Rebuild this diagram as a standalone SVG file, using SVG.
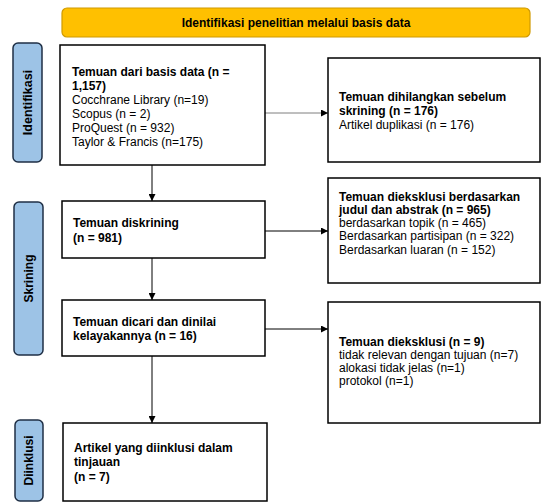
<svg xmlns="http://www.w3.org/2000/svg" width="542" height="503" viewBox="0 0 542 503">
<defs>
<marker id="ah" viewBox="0 0 10 10" refX="10" refY="5" markerWidth="7" markerHeight="7" markerUnits="userSpaceOnUse" orient="auto">
<path d="M0,0 L10,5 L0,10 z" fill="#000"/>
</marker>
<style>
.box{fill:#fff;stroke:#000;stroke-width:1.5}
.side{fill:#9DC3E6;stroke:#1F2F45;stroke-width:1.5}
.hdr{fill:#FFC000;stroke:#D09A00;stroke-width:1.2}
text{font-family:"Liberation Sans",Arial,sans-serif;font-size:12px;fill:#000}
.b{font-weight:bold}
.lab{font-weight:bold;text-anchor:middle}
.con{stroke:#000;stroke-width:1;fill:none;marker-end:url(#ah)}
</style>
</defs>
<rect width="542" height="503" fill="#fff"/>
<g id="header">
<rect class="hdr" x="62" y="8" width="468" height="29" rx="5"/>
<text class="lab" x="296" y="27">Identifikasi penelitian melalui basis data</text>
</g>
<g id="side-identifikasi">
<rect class="side" x="13" y="43" width="29" height="119" rx="5"/>
<text class="lab" style="font-size:12.5px" transform="translate(32,102.5) rotate(-90)">Identifikasi</text>
</g>
<g id="side-skrining">
<rect class="side" x="14" y="202" width="29" height="153" rx="5"/>
<text class="lab" transform="translate(32.5,278.5) rotate(-90)">Skrining</text>
</g>
<g id="side-diinklusi">
<rect class="side" x="15" y="420" width="28" height="81" rx="5"/>
<text class="lab" transform="translate(33,460.5) rotate(-90)">Diinklusi</text>
</g>
<g id="connectors">
<line class="con" x1="152" y1="165" x2="152" y2="201"/>
<line class="con" x1="152" y1="258" x2="152" y2="300"/>
<line class="con" x1="152" y1="356" x2="152" y2="423"/>
<line class="con" x1="265" y1="113" x2="328" y2="113" style="stroke:#7F7F7F"/>
<line class="con" x1="265" y1="231" x2="328" y2="231"/>
<line class="con" x1="265" y1="329" x2="328" y2="329"/>
</g>
<g id="n-database">
<rect class="box" x="60" y="45" width="205" height="120"/>
<text class="b" x="72" y="76">Temuan dari basis data (n =</text>
<text class="b" x="72" y="89.5">1,157)</text>
<text x="72" y="103.5">Cocchrane Library (n=19)</text>
<text x="72" y="117.5">Scopus (n = 2)</text>
<text x="72" y="131.5">ProQuest (n = 932)</text>
<text x="72" y="145.5">Taylor &amp; Francis (n=175)</text>
</g>
<g id="n-removed">
<rect class="box" x="328" y="58" width="212" height="104"/>
<text class="b" x="339" y="101">Temuan dihilangkan sebelum</text>
<text class="b" x="339" y="114.5">skrining (n = 176)</text>
<text x="339" y="129">Artikel duplikasi  (n = 176)</text>
</g>
<g id="n-screened">
<rect class="box" x="62" y="201" width="203" height="57"/>
<text class="b" x="73" y="227">Temuan diskrining</text>
<text class="b" x="73" y="242">(n = 981)</text>
</g>
<g id="n-excluded1">
<rect class="box" x="328" y="178" width="212" height="105"/>
<text class="b" x="339" y="201">Temuan dieksklusi berdasarkan</text>
<text class="b" x="339" y="214">judul dan abstrak (n = 965)</text>
<text x="339" y="227">berdasarkan topik (n = 465)</text>
<text x="339" y="240">Berdasarkan partisipan (n = 322)</text>
<text x="339" y="253.5">Berdasarkan luaran (n = 152)</text>
</g>
<g id="n-assessed">
<rect class="box" x="62" y="300" width="203" height="56"/>
<text class="b" x="73" y="326">Temuan dicari dan dinilai</text>
<text class="b" x="73" y="340">kelayakannya  (n = 16)</text>
</g>
<g id="n-excluded2">
<rect class="box" x="328" y="302" width="212" height="121"/>
<text class="b" x="339" y="346">Temuan dieksklusi (n = 9)</text>
<text x="339" y="359">tidak relevan dengan tujuan (n=7)</text>
<text x="339" y="372">alokasi tidak jelas (n=1)</text>
<text x="339" y="385">protokol (n=1)</text>
</g>
<g id="n-included">
<rect class="box" x="63" y="423" width="204" height="78"/>
<text class="b" x="74" y="452">Artikel yang diinklusi dalam</text>
<text class="b" x="74" y="466">tinjauan</text>
<text class="b" x="74" y="481">(n = 7)</text>
</g>
</svg>
